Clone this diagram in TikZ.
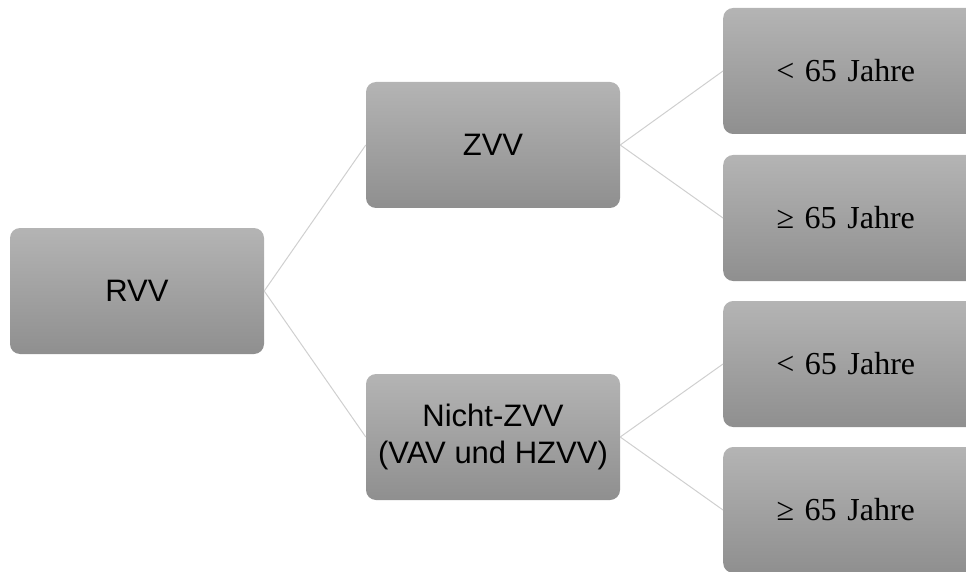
\documentclass[tikz,border=0pt]{standalone}
\usepackage{fontspec}
\setsansfont{Liberation Sans}
\newfontfamily\rserif{Liberation Serif}
\definecolor{boxtop}{HTML}{B4B4B4}
\definecolor{boxbot}{HTML}{8F8F8F}
\definecolor{linegray}{HTML}{CFCFCF}
\tikzset{
  box/.style={rectangle, rounded corners=10pt, top color=boxtop, bottom color=boxbot,
    minimum width=254pt, minimum height=126pt, inner sep=0pt, align=center, text=black},
  sbox/.style={box, font=\sffamily\fontsize{31}{37}\selectfont},
  rbox/.style={box, font=\rserif\fontsize{32}{36}\selectfont, text width=254pt},
  conn/.style={draw=linegray, line width=1pt}
}
\begin{document}
\begin{tikzpicture}[x=1pt,y=-1pt]
\useasboundingbox (0,0) rectangle (966,572);
\node[sbox] (rvv) at (137,291) {RVV};
\node[sbox] (zvv) at (493,145) {ZVV};
\node[sbox] (nzvv) at (493,437) {Nicht-ZVV\\(VAV und HZVV)};
\node[rbox, anchor=west] (a1) at (723,71) {\hspace*{-9pt}< 65 Jahre};
\node[rbox, anchor=west] (a2) at (723,218) {\hspace*{-9pt}≥ 65 Jahre};
\node[rbox, anchor=west] (b1) at (723,364) {\hspace*{-9pt}< 65 Jahre};
\node[rbox, anchor=west] (b2) at (723,510) {\hspace*{-9pt}≥ 65 Jahre};
\draw[conn] (rvv.east) -- (zvv.west);
\draw[conn] (rvv.east) -- (nzvv.west);
\draw[conn] (zvv.east) -- (a1.west);
\draw[conn] (zvv.east) -- (a2.west);
\draw[conn] (nzvv.east) -- (b1.west);
\draw[conn] (nzvv.east) -- (b2.west);
\end{tikzpicture}
\end{document}
